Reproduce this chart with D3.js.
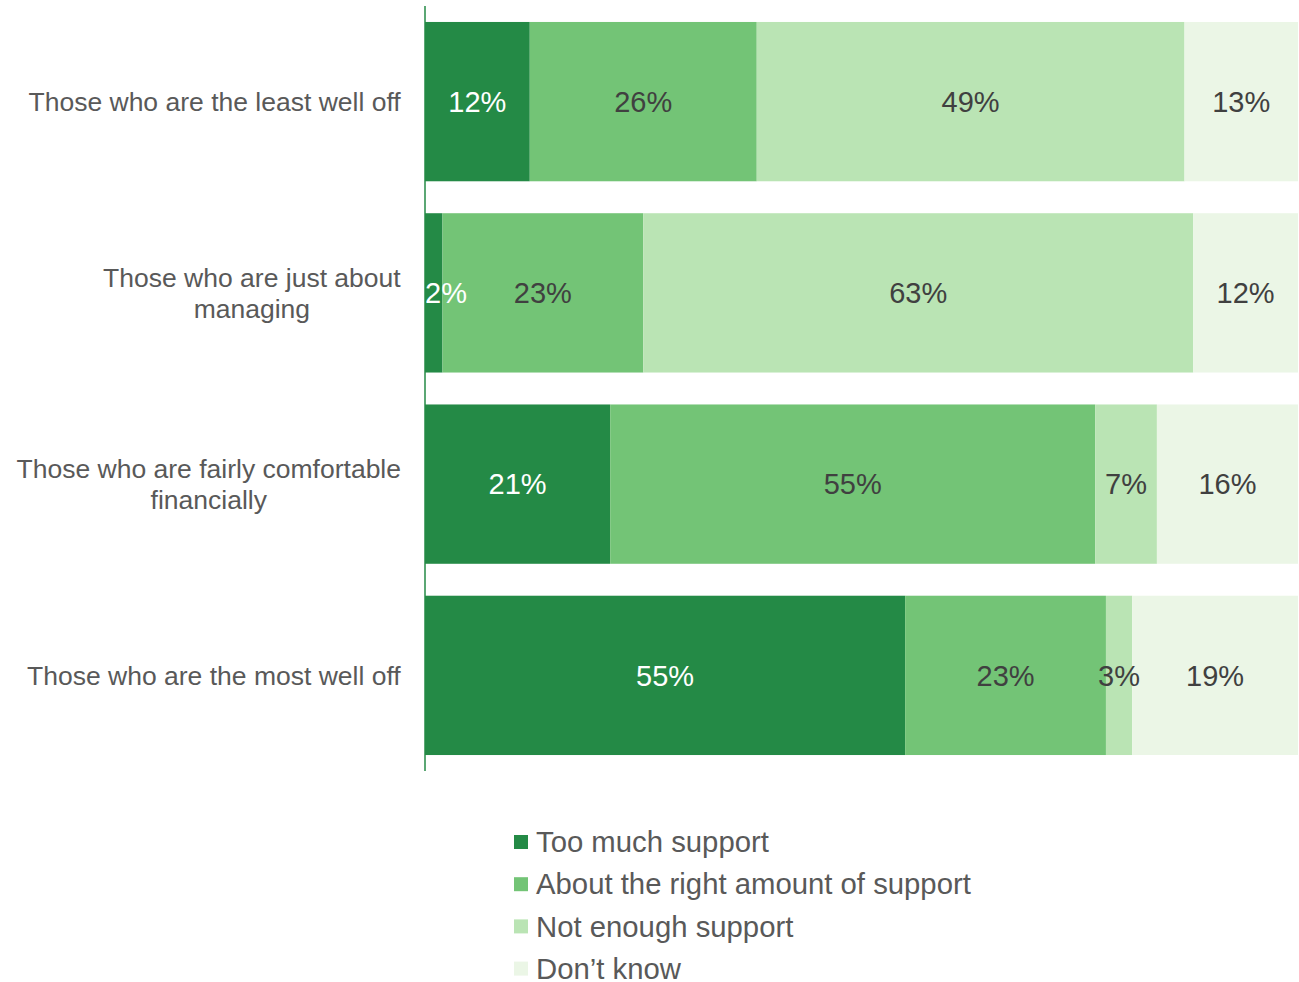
<!DOCTYPE html>
<html><head><meta charset="utf-8">
<script src="https://cdn.jsdelivr.net/npm/d3@7"></script>
<style>body{margin:0;background:#fff;}</style>
</head><body>
<svg id="chart" width="1299" height="982"></svg>
<script>
const categories = [
  ["Those who are the least well off"],
  ["Those who are just about", "managing"],
  ["Those who are fairly comfortable", "financially"],
  ["Those who are the most well off"]
];
const seriesNames = ["Too much support", "About the right amount of support", "Not enough support", "Don\u2019t know"];
const tooMuch   = [12, 2, 21, 55];
const rightAmt  = [26, 23, 55, 23];
const notEnough = [49, 63, 7, 3];
const dontKnow  = [13, 12, 16, 19];
const colors = ["#248a46", "#73c476", "#bae4b4", "#ebf6e6"];
const labelColors = ["#ffffff", "#404040", "#404040", "#404040"];

const svg = d3.select("#chart");
const font = "Liberation Sans, Arial, sans-serif";
const margin = {left: 425, right: 1, top: 6, bottom: 211};
const W = 1299, H = 982;

const rows = categories.map((c, i) => ({
  idx: i, s0: tooMuch[i], s1: rightAmt[i], s2: notEnough[i], s3: dontKnow[i]
}));
const keys = ["s0", "s1", "s2", "s3"];
const stack = d3.stack().keys(keys).offset(d3.stackOffsetExpand);
const layers = stack(rows);

const x = d3.scaleLinear().domain([0, 1]).range([margin.left, W - margin.right]);
const y = d3.scaleBand().domain(d3.range(categories.length))
  .range([margin.top, H - margin.bottom]).paddingInner(0.167).paddingOuter(0.0835);

const barG = svg.append("g");
const labG = svg.append("g");
layers.forEach((layer, k) => {
  barG.append("g").selectAll("rect").data(layer).enter().append("rect")
    .attr("x", d => x(d[0]))
    .attr("width", d => x(d[1]) - x(d[0]))
    .attr("y", (d, i) => y(i))
    .attr("height", y.bandwidth())
    .attr("fill", colors[k]);
  labG.append("g").selectAll("text").data(layer).enter().append("text")
    .attr("x", d => (x(d[0]) + x(d[1])) / 2)
    .attr("y", (d, i) => y(i) + y.bandwidth() / 2)
    .attr("dy", "0.35em")
    .attr("text-anchor", "middle")
    .attr("font-family", font)
    .attr("font-size", 29)
    .attr("fill", labelColors[k])
    .text(d => d.data[keys[k]] + "%")
    .each(function() {
      // keep label inside plot area (as the original does)
      const w = this.getComputedTextLength();
      const cx = +this.getAttribute("x");
      if (cx - w / 2 < margin.left) this.setAttribute("x", margin.left + w / 2);
    });
});

// axis line
svg.append("line")
  .attr("x1", margin.left).attr("x2", margin.left)
  .attr("y1", margin.top).attr("y2", H - 211)
  .attr("stroke", "#248a46").attr("stroke-width", 1.5);

// category labels
categories.forEach((lines, i) => {
  const cy = y(i) + y.bandwidth() / 2;
  const lh = 31;
  const t = svg.append("text")
    .attr("font-family", font).attr("font-size", 26.5)
    .attr("fill", "#595959").attr("text-anchor", "middle");
  const cx = 401;
  lines.forEach((ln, j) => {
    t.append("tspan")
      .attr("x", cx)
      .attr("y", cy + (j - (lines.length - 1) / 2) * lh)
      .attr("dy", "0.35em")
      .text(ln);
  });
  const bb = t.node().getBBox();
  t.attr("transform", `translate(${-(bb.width / 2)},0)`);
});

// legend
const legend = svg.append("g");
seriesNames.forEach((name, i) => {
  const ly = 842 + i * 42.2;
  legend.append("rect").attr("x", 514).attr("y", ly - 7).attr("width", 14).attr("height", 14)
    .attr("fill", colors[i]);
  legend.append("text").attr("x", 536).attr("y", ly).attr("dy", "0.35em")
    .attr("font-family", font).attr("font-size", 29.3).attr("fill", "#595959")
    .text(name);
});
</script>
</body></html>
